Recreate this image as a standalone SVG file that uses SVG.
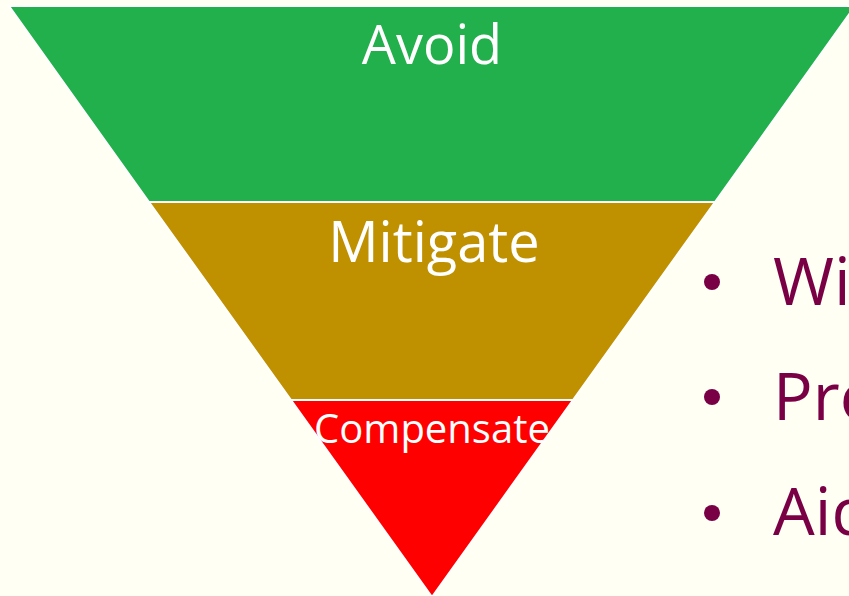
<svg xmlns="http://www.w3.org/2000/svg" width="849" height="596" viewBox="0 0 849 596">
<style>
.band{stroke:#FFFFFF;stroke-width:2;stroke-linejoin:miter}
.lbl{font-family:"Open Sans","Noto Sans",sans-serif;fill:#FFFFFF;text-anchor:middle}
.bul{font-family:"Open Sans","Noto Sans",sans-serif;fill:#7A0045;font-size:66px}
.dot{fill:#7A0045}
</style>
<rect x="0" y="0" width="849" height="596" fill="#FFFFF3"/>
<g id="avoid">
<polygon class="band" fill="#21B04B" points="9,6 855,6 715,202 149,202"/>
<text class="lbl" x="432" y="64" font-size="54">Avoid</text>
</g>
<g id="mitigate">
<polygon class="band" fill="#BF9000" points="149,202 715,202 573,400 291,400"/>
<text class="lbl" x="434" y="262" font-size="56">Mitigate</text>
</g>
<g id="compensate">
<polygon class="band" fill="#FF0000" points="291,400 573,400 432,597"/>
<text class="lbl" x="432" y="443" font-size="40">Compensate</text>
</g>
<g id="bullets">
<circle class="dot" cx="712" cy="282" r="8"/>
<text class="bul" x="773" y="305">Wit</text>
<circle class="dot" cx="712" cy="397" r="8"/>
<text class="bul" x="773" y="420">Pro</text>
<circle class="dot" cx="712" cy="513" r="8"/>
<text class="bul" x="773" y="535">Aid</text>
</g>
<g id="connectors"></g>
</svg>
